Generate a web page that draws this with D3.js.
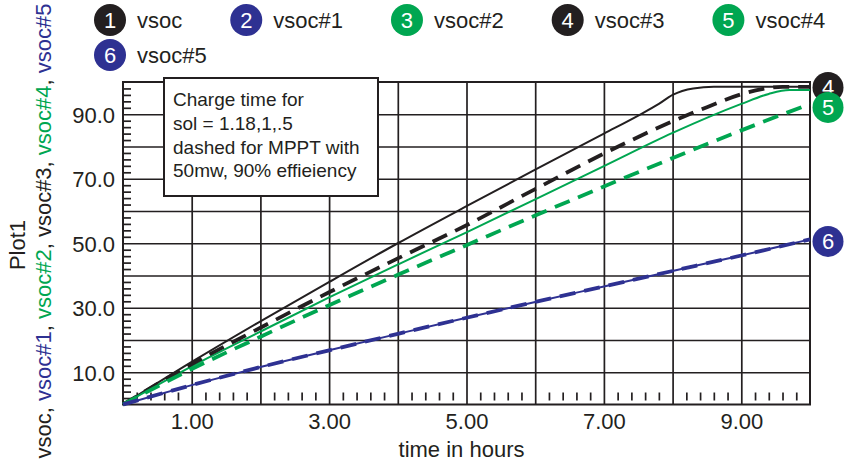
<!DOCTYPE html>
<html>
<head>
<meta charset="utf-8">
<script src="https://cdn.jsdelivr.net/npm/d3@7"></script>
<style>
  html, body { margin: 0; padding: 0; background: #fff; }
  svg { display: block; font-family: "Liberation Sans", Arial, Helvetica, sans-serif; }
</style>
</head>
<body>
<svg id="chart" width="848" height="464"></svg>
<script>
// State-of-charge curves (percent) over charge time (hours)
const seriesNames = ["vsoc", "vsoc#1", "vsoc#2", "vsoc#3", "vsoc#4", "vsoc#5"];

const vsocHours = [0, 1, 2, 3, 4, 5, 6, 7, 7.5, 7.8, 8.0, 8.3, 8.6, 10];
const vsoc      = [0, 13.2, 25.8, 38, 50, 61.5, 72.8, 84, 89.6, 93.2, 96, 98, 98.5, 98.5];

const vsoc1Hours = [0, 1, 2, 3, 4, 5, 6, 7, 8, 9, 10];
const vsoc1      = [0, 6.0, 11.6, 16.8, 21.9, 26.9, 31.8, 36.6, 41.4, 46.2, 51.2];

const vsoc2Hours = [0, 1, 2, 3, 4, 5, 6, 7, 8, 9, 9.4, 9.7, 10];
const vsoc2      = [0, 11.8, 22.6, 33.2, 43.4, 53.4, 63.6, 73.9, 84.2, 93.2, 96.3, 97.5, 97.5];

const vsoc3Hours = [0, 1, 2, 3, 4, 5, 6, 7, 8, 8.5, 9, 9.3, 9.6, 10];
const vsoc3      = [0, 12.5, 23.8, 34.8, 45.3, 55.6, 66.8, 77.8, 87.8, 92.2, 96.2, 97.8, 98.5, 98.5];

const vsoc4Hours = [0, 1, 2, 3, 4, 5, 6, 7, 8, 9, 10];
const vsoc4      = [0, 11, 21, 30.8, 40.2, 49.4, 58.6, 67.6, 76.4, 85, 93.2];

const vsoc5Hours = [0, 1, 2, 3, 4, 5, 6, 7, 8, 9, 10];
const vsoc5      = [0, 6.0, 11.6, 16.8, 21.9, 26.9, 31.8, 36.6, 41.4, 46.2, 51.2];

const xTickLabels = [1, 3, 5, 7, 9];
const yTickLabels = [10, 30, 50, 70, 90];

const noteLines = [
  "Charge time for",
  "sol = 1.18,1,.5",
  "dashed for MPPT with",
  "50mw, 90% effieiency"
];

// Styling per series
const BLACK = "#231f20", BLUE = "#2e3192", GREEN = "#00a651";
const seriesColors = [BLACK, BLUE, GREEN, BLACK, GREEN, BLUE];
const seriesDashed = [false, false, false, true, true, true];

const hoursList = [vsocHours, vsoc1Hours, vsoc2Hours, vsoc3Hours, vsoc4Hours, vsoc5Hours];
const valuesList = [vsoc, vsoc1, vsoc2, vsoc3, vsoc4, vsoc5];
const series = seriesNames.map((name, i) => ({
  name, index: i + 1,
  color: seriesColors[i], dashed: seriesDashed[i],
  points: hoursList[i].map((t, j) => [t, valuesList[i][j]])
}));

const svg = d3.select("#chart");
const plotLeft = 123, plotRight = 810, plotTop = 82, plotBottom = 404.5;
const x = d3.scaleLinear().domain([0, 10]).range([plotLeft, plotRight]);
const y = d3.scaleLinear().domain([0, 100]).range([plotBottom, plotTop]);
const FONT = 22;

// Grid: a line every hour and every 10 %
svg.append("g")
  .attr("transform", `translate(0,${plotBottom})`)
  .call(d3.axisBottom(x).tickValues(d3.range(1, 10)).tickSize(-(plotBottom - plotTop)).tickFormat(""))
  .call(g => g.select(".domain").remove())
  .call(g => g.selectAll("line").attr("stroke", BLACK).attr("stroke-width", 1.7));
svg.append("g")
  .attr("transform", `translate(${plotLeft},0)`)
  .call(d3.axisLeft(y).tickValues(d3.range(10, 100, 10)).tickSize(-(plotRight - plotLeft)).tickFormat(""))
  .call(g => g.select(".domain").remove())
  .call(g => g.selectAll("line").attr("stroke", BLACK).attr("stroke-width", 1.7));

// Minor ticks
const xMinor = d3.range(0, 10.001, 0.2).filter(v => Math.abs(v - Math.round(v)) > 1e-6);
svg.append("g")
  .attr("transform", `translate(0,${plotBottom - 4})`)
  .call(d3.axisBottom(x).tickValues(xMinor).tickSize(-8).tickFormat(""))
  .call(g => g.select(".domain").remove())
  .call(g => g.selectAll("line").attr("stroke", BLACK).attr("stroke-width", 1.7));
const yMinor = d3.range(2, 100, 2).filter(v => v % 10 !== 0);
svg.append("g")
  .attr("transform", `translate(${plotLeft},0)`)
  .call(d3.axisLeft(y).tickValues(yMinor).tickSize(-8).tickFormat(""))
  .call(g => g.select(".domain").remove())
  .call(g => g.selectAll("line").attr("stroke", BLACK).attr("stroke-width", 1.7));

// Frame
svg.append("rect")
  .attr("x", plotLeft).attr("y", plotTop)
  .attr("width", plotRight - plotLeft).attr("height", plotBottom - plotTop)
  .attr("fill", "none").attr("stroke", BLACK).attr("stroke-width", 2);

// Tick labels
svg.append("g")
  .attr("transform", `translate(${plotLeft},0)`)
  .call(d3.axisLeft(y).tickValues(yTickLabels).tickFormat(d3.format(".1f")).tickSize(0).tickPadding(8))
  .call(g => g.select(".domain").remove())
  .call(g => g.selectAll("text").attr("fill", BLACK).attr("font-size", FONT)
    .attr("font-family", "Liberation Sans, Arial, sans-serif").attr("dy", "0.36em"));
svg.append("g")
  .attr("transform", `translate(0,${plotBottom})`)
  .call(d3.axisBottom(x).tickValues(xTickLabels).tickFormat(d3.format(".2f")).tickSize(0).tickPadding(9))
  .call(g => g.select(".domain").remove())
  .call(g => g.selectAll("text").attr("fill", BLACK).attr("font-size", FONT)
    .attr("font-family", "Liberation Sans, Arial, sans-serif"));

// Axis titles
svg.append("text")
  .attr("x", (plotLeft + plotRight) / 2 - 5).attr("y", 457)
  .attr("text-anchor", "middle").attr("font-size", FONT).attr("fill", BLACK)
  .text("time in hours");
svg.append("text")
  .attr("transform", "translate(25,245) rotate(-90)")
  .attr("text-anchor", "middle").attr("font-size", FONT).attr("fill", BLACK)
  .text("Plot1");
const yTitle = svg.append("text")
  .attr("transform", "translate(51,231) rotate(-90)")
  .attr("text-anchor", "middle").attr("font-size", FONT);
series.forEach((s, i) => {
  yTitle.append("tspan").attr("fill", s.color).text(s.name);
  if (i < series.length - 1) yTitle.append("tspan").attr("fill", BLACK).text(", ");
});

// Curves
const line = d3.line().x(d => x(d[0])).y(d => y(d[1])).curve(d3.curveMonotoneX);
svg.append("g").selectAll("path")
  .data(series)
  .join("path")
  .attr("d", d => line(d.points))
  .attr("fill", "none")
  .attr("stroke", d => d.color)
  .attr("stroke-width", d => d.dashed ? 3.8 : 2)
  .attr("stroke-dasharray", d => d.dashed ? "16,9" : null)
  .attr("stroke-linejoin", "round");

// Note box
const note = svg.append("g");
note.append("rect")
  .attr("x", 164).attr("y", 78).attr("width", 214).attr("height", 118)
  .attr("fill", "#fff").attr("stroke", BLACK).attr("stroke-width", 2);
note.selectAll("text")
  .data(noteLines)
  .join("text")
  .attr("x", 173).attr("y", (d, i) => 106 + i * 23.8)
  .attr("font-size", 19).attr("fill", BLACK)
  .text(d => d);

// Numbered end markers; a marker sitting under a later one at the same
// end point would be hidden, so it is left out
const R = 15.5;
const markers = series.map(s => {
  const last = s.points[s.points.length - 1];
  return { s, my: y(last[1]) + 2 };
});
const shown = markers.filter((m, i) =>
  !markers.slice(i + 1).some(o => Math.abs(o.my - m.my) < R));
// push neighbouring markers apart a little
const MIN_GAP = 20;
shown.sort((a, b) => a.my - b.my);
for (let k = 1; k < shown.length; k++) {
  const gap = shown[k].my - shown[k - 1].my;
  if (gap < MIN_GAP) {
    const half = (MIN_GAP - gap) / 2;
    shown[k - 1].my -= half;
    shown[k].my += half;
  }
}
shown.sort((a, b) => a.s.index - b.s.index);
const endMarks = svg.append("g").selectAll("g")
  .data(shown)
  .join("g")
  .attr("transform", d => `translate(${plotRight + 18},${d.my})`);
endMarks.append("circle").attr("r", R).attr("fill", d => d.s.color);
endMarks.append("text")
  .attr("text-anchor", "middle").attr("dy", "0.36em")
  .attr("font-size", FONT).attr("fill", "#fff")
  .text(d => d.s.index);

// Legend
const legend = svg.append("g");
let lx = 110, ly = 20;
series.forEach(s => {
  if (lx > 800) { lx = 110; ly += 35; }
  const item = legend.append("g").attr("transform", `translate(${lx},${ly})`);
  item.append("circle").attr("r", 16).attr("fill", s.color);
  item.append("text").attr("text-anchor", "middle").attr("dy", "0.36em")
    .attr("font-size", FONT).attr("fill", "#fff").text(s.index);
  const label = item.append("text").attr("x", 27).attr("y", 8)
    .attr("font-size", FONT).attr("fill", BLACK).text(s.name);
  lx += 27 + label.node().getComputedTextLength() + 64;
});
</script>
</body>
</html>
